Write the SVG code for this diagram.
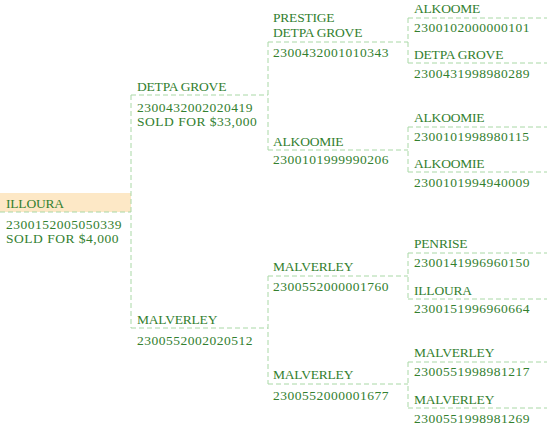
<svg xmlns="http://www.w3.org/2000/svg" width="547" height="427" viewBox="0 0 547 427">
<style>
text{font-family:"Liberation Serif","Times New Roman",serif;font-size:13.5px;fill:#33802f}
.n{letter-spacing:-0.2px}
.i{letter-spacing:0.5px}
.c line{stroke:#a9d8a6;stroke-width:1;stroke-dasharray:5,3;fill:none}
</style>
<rect x="0" y="193" width="131" height="19" fill="#fde8c6"/>
<g class="c" id="connectors">
<line x1="0" y1="212" x2="131" y2="212"/>
<line x1="131" y1="95" x2="131" y2="328"/>
<line x1="131" y1="95" x2="268" y2="95"/>
<line x1="131" y1="328" x2="268" y2="328"/>
<line x1="268" y1="42" x2="268" y2="150"/>
<line x1="268" y1="276" x2="268" y2="384"/>
<line x1="268" y1="42" x2="408" y2="42"/>
<line x1="268" y1="150" x2="408" y2="150"/>
<line x1="268" y1="276" x2="408" y2="276"/>
<line x1="268" y1="384" x2="408" y2="384"/>
<line x1="408" y1="18" x2="408" y2="63"/>
<line x1="408" y1="127" x2="408" y2="172"/>
<line x1="408" y1="253" x2="408" y2="299"/>
<line x1="408" y1="362" x2="408" y2="408"/>
<line x1="408" y1="18" x2="547" y2="18"/>
<line x1="408" y1="63" x2="547" y2="63"/>
<line x1="408" y1="127" x2="547" y2="127"/>
<line x1="408" y1="172" x2="547" y2="172"/>
<line x1="408" y1="253" x2="547" y2="253"/>
<line x1="408" y1="299" x2="547" y2="299"/>
<line x1="408" y1="362" x2="547" y2="362"/>
<line x1="408" y1="408" x2="547" y2="408"/>
</g>
<g id="root"><text class="n" x="6" y="208">ILLOURA</text><text class="i" x="6" y="229">2300152005050339</text><text class="i" x="6" y="243">SOLD FOR $4,000</text></g>
<g id="sire"><text class="n" x="137" y="91">DETPA GROVE</text><text class="i" x="137" y="112">2300432002020419</text><text class="i" x="137" y="126">SOLD FOR $33,000</text></g>
<g id="dam"><text class="n" x="137" y="324">MALVERLEY</text><text class="i" x="137" y="345">2300552002020512</text></g>
<g id="ss"><text class="n" x="273" y="22">PRESTIGE</text><text class="n" x="273" y="37">DETPA GROVE</text><text class="i" x="273" y="57">2300432001010343</text></g>
<g id="sd"><text class="n" x="273" y="146">ALKOOMIE</text><text class="i" x="273" y="164">2300101999990206</text></g>
<g id="ds"><text class="n" x="273" y="271">MALVERLEY</text><text class="i" x="273" y="291">2300552000001760</text></g>
<g id="dd"><text class="n" x="273" y="379">MALVERLEY</text><text class="i" x="273" y="400">2300552000001677</text></g>
<g id="sss"><text class="n" x="414" y="13">ALKOOME</text><text class="i" x="414" y="32">2300102000000101</text></g>
<g id="ssd"><text class="n" x="414" y="59">DETPA GROVE</text><text class="i" x="414" y="78">2300431998980289</text></g>
<g id="sds"><text class="n" x="414" y="122">ALKOOMIE</text><text class="i" x="414" y="141">2300101998980115</text></g>
<g id="sdd"><text class="n" x="414" y="168">ALKOOMIE</text><text class="i" x="414" y="187">2300101994940009</text></g>
<g id="dss"><text class="n" x="414" y="248">PENRISE</text><text class="i" x="414" y="267">2300141996960150</text></g>
<g id="dsd"><text class="n" x="414" y="295">ILLOURA</text><text class="i" x="414" y="313">2300151996960664</text></g>
<g id="dds"><text class="n" x="414" y="357">MALVERLEY</text><text class="i" x="414" y="376">2300551998981217</text></g>
<g id="ddd"><text class="n" x="414" y="404">MALVERLEY</text><text class="i" x="414" y="423">2300551998981269</text></g>
</svg>
